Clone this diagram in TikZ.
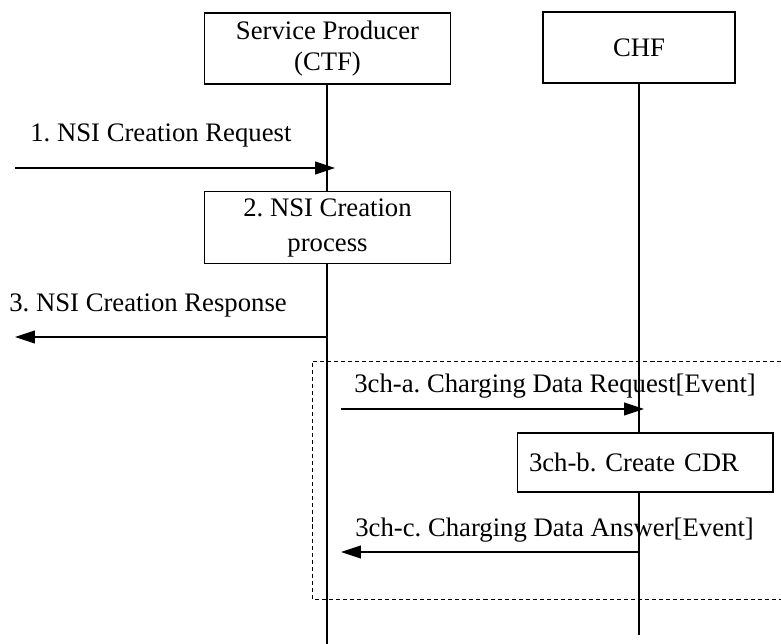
\documentclass[tikz,border=0pt]{standalone}
\usepackage{fontspec}
\setmainfont{Liberation Serif}
\usetikzlibrary{arrows.meta, positioning}
\tikzstyle{entity} = [rectangle, draw=black, line width=0.6pt, minimum width=4.92cm, minimum height=1.42cm, align=center, inner sep=2pt]
\tikzstyle{process} = [rectangle, draw=black, line width=0.6pt, minimum width=4.92cm, minimum height=1.44cm, align=center, inner sep=2pt]
\tikzstyle{msglabel} = [anchor=base west, inner sep=0pt]
\tikzstyle{life} = [line width=1.1pt]
\tikzstyle{msg} = [line width=0.6pt, -{Triangle[length=0.4cm, width=0.26cm]}]
\frenchspacing

\begin{document}
\begin{tikzpicture}[x=0.02cm, y=-0.02cm, node distance=3.59cm, font=\fontsize{15.2}{17.6}\selectfont]
\useasboundingbox (0,0) rectangle (781,644);

% Entities
\node (prod) [entity] at (327.5,48.5) {Service Producer\\(CTF)};
\node (chf) [entity, minimum width=3.84cm] at (639,47.5) {CHF};

% Processing boxes
\node (create) [process, below of=prod] {2. NSI Creation\\[2.3pt]process};
\node (cdr) [process, minimum width=5.12cm, minimum height=1.18cm, text width=4.64cm, align=left, inner xsep=0.24cm] at (645,462.5) {3ch-b. Create CDR};

% Lifeline ends
\coordinate (prod-end) at (327,644);
\coordinate (chf-end) at (639,635);

% Lifelines
\draw [life] (prod.south -| prod-end) -- (create.north -| prod-end);
\draw [life] (create.south -| prod-end) -- (prod-end);
\draw [life] (chf.south) -- (cdr.north -| chf-end);
\draw [life] (cdr.south -| chf-end) -- (chf-end);

% Charging group (dashed)
\coordinate (grp-a) at (781,361);
\coordinate (grp-b) at (312,361);
\coordinate (grp-c) at (312,599);
\coordinate (grp-d) at (781,599);
\draw [line width=0.5pt, dash pattern=on 2.3pt off 1.7pt] (grp-a) -- (grp-b) -- (grp-c) -- (grp-d);

% Message ends
\coordinate (req-s) at (15,168);
\coordinate (req-e) at (335,168);
\coordinate (rsp-s) at (327,337);
\coordinate (rsp-e) at (15,337);
\coordinate (cda-s) at (341,409);
\coordinate (cda-e) at (644,409);
\coordinate (cdc-s) at (639,552);
\coordinate (cdc-e) at (341,552);

% Messages
\draw [msg] (req-s) -- (req-e);
\draw [msg] (rsp-s) -- (rsp-e);
\draw [msg] (cda-s) -- (cda-e);
\draw [msg] (cdc-s) -- (cdc-e);

% Labels
\node (req-lbl) [msglabel] at (30,142) {1. NSI Creation Request};
\node (rsp-lbl) [msglabel] at (9,312) {3. NSI Creation Response};
\node (cda-lbl) [msglabel] at (354,393) {3ch-a. Charging Data Request[Event]};
\node (cdc-lbl) [msglabel] at (355,537) {3ch-c. Charging Data Answer[Event]};

\end{tikzpicture}
\end{document}
